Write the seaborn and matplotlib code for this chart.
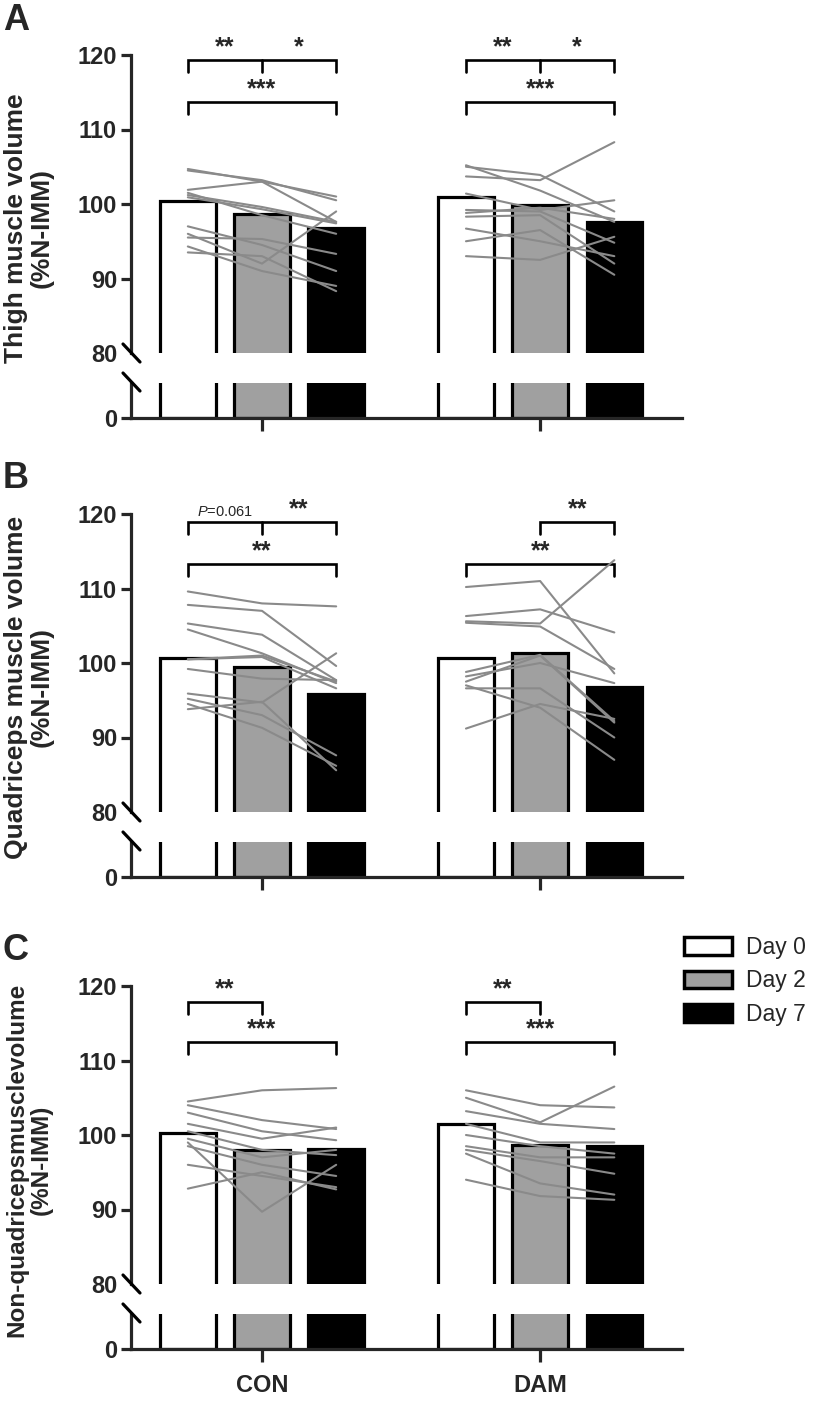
import numpy as np
import pandas as pd
import seaborn as sns
import matplotlib.pyplot as plt
from matplotlib.lines import Line2D
from matplotlib.patches import Patch

# --- data ---
groups = ['CON', 'DAM']
days = ['Day 0', 'Day 2', 'Day 7']

# bar heights (group means), per day: [CON, DAM]
thigh_means = {'Day 0': [100.4, 101.0], 'Day 2': [98.6, 99.8], 'Day 7': [96.8, 97.6]}
quad_means = {'Day 0': [100.7, 100.7], 'Day 2': [99.4, 101.3], 'Day 7': [95.8, 96.8]}
nonquad_means = {'Day 0': [100.3, 101.5], 'Day 2': [98.0, 98.7], 'Day 7': [98.1, 98.5]}

# individual subjects, [day0, day2, day7]
thigh_con = [[104.7, 103.0, 101.0], [104.5, 103.2, 100.5], [101.9, 103.0, 97.6],
             [101.2, 99.6, 97.6], [100.9, 99.3, 97.4], [97.0, 94.5, 91.0],
             [96.0, 92.0, 99.0], [95.5, 95.3, 93.3], [94.3, 91.0, 89.0],
             [93.5, 93.0, 88.3], [101.5, 98.5, 96.0]]
thigh_dam = [[105.2, 101.8, 97.6], [105.0, 103.9, 99.0], [103.7, 103.2, 108.3],
             [101.4, 99.2, 100.5], [99.2, 99.0, 94.8], [98.3, 98.5, 92.0],
             [96.7, 95.0, 93.0], [95.0, 96.5, 90.5], [93.0, 92.5, 95.6],
             [98.8, 99.5, 98.0]]
quad_con = [[109.6, 108.0, 107.6], [107.8, 107.0, 99.6], [105.3, 103.8, 97.7],
            [104.5, 101.3, 97.3], [100.5, 100.8, 96.6], [99.2, 97.9, 97.7],
            [100.5, 101.0, 97.5], [95.9, 94.7, 101.3], [95.2, 93.0, 87.6],
            [94.5, 91.3, 86.2], [93.8, 94.8, 85.6]]
quad_dam = [[110.2, 111.0, 98.6], [106.3, 107.2, 104.1], [105.6, 105.3, 113.8],
            [105.4, 104.9, 99.2], [98.8, 101.1, 92.2], [98.2, 100.0, 97.3],
            [97.5, 101.0, 92.0], [96.6, 96.6, 90.0], [97.0, 94.0, 87.0],
            [91.2, 94.5, 92.5]]
nonquad_con = [[104.5, 106.0, 106.3], [104.0, 102.0, 100.8], [103.0, 100.5, 99.3],
               [101.5, 99.5, 101.0], [100.5, 98.0, 97.3], [99.5, 97.0, 98.0],
               [99.0, 89.7, 96.0], [98.5, 96.0, 94.5], [96.0, 94.5, 93.0],
               [92.8, 95.0, 92.7]]
nonquad_dam = [[106.0, 104.0, 103.7], [105.0, 101.7, 106.5], [103.2, 101.5, 100.8],
               [101.5, 99.0, 99.0], [100.0, 98.5, 97.5], [98.5, 97.0, 97.0],
               [98.0, 96.5, 94.8], [97.5, 93.5, 92.0], [94.0, 91.8, 91.3]]

ylabels = ['Thigh muscle volume\n(%N-IMM)',
           'Quadriceps muscle volume\n(%N-IMM)',
           'Non-quadricepsmusclevolume\n(%N-IMM)']
letters = ['A', 'B', 'C']

# significance brackets: (group, day_from, day_to, y, label, middle tick day)
sig_A = [(0, 0, 2, 119.3, None, 1), (0, 0, 1, None, '**', None), (0, 1, 2, None, '*', None),
         (0, 0, 2, 113.7, '***', None),
         (1, 0, 2, 119.3, None, 1), (1, 0, 1, None, '**', None), (1, 1, 2, None, '*', None),
         (1, 0, 2, 113.7, '***', None)]
sig_B = [(0, 0, 2, 118.9, None, 1), (0, 0, 1, None, '$P$=0.061', None), (0, 1, 2, None, '**', None),
         (0, 0, 2, 113.3, '**', None),
         (1, 1, 2, 118.9, '**', None),
         (1, 0, 2, 113.3, '**', None)]
sig_C = [(0, 0, 1, 117.9, '**', None), (0, 0, 2, 112.5, '***', None),
         (1, 0, 1, 117.9, '**', None), (1, 0, 2, 112.5, '***', None)]

panels = [(thigh_means, thigh_con, thigh_dam, sig_A),
          (quad_means, quad_con, quad_dam, sig_B),
          (nonquad_means, nonquad_con, nonquad_dam, sig_C)]

# --- style ---
sns.set_style('ticks')
plt.rcParams['font.family'] = ['Liberation Sans', 'DejaVu Sans']
plt.rcParams['mathtext.fontset'] = 'custom'
plt.rcParams['mathtext.it'] = 'Liberation Sans:italic'
plt.rcParams['mathtext.rm'] = 'Liberation Sans'

W, H = 819, 1407
LW = 2.3
palette = ['white', '#a0a0a0', 'black']
line_col = '#8a8a8a'

fig = plt.figure(figsize=(W / 100, H / 100), dpi=100)


def fx(px):
    return px / W


def fy(py):
    return 1 - py / H


shifts = [0, 459, 931]
for p, (means, con, dam, sigs) in enumerate(panels):
    s = shifts[p]
    ax_up = fig.add_axes([fx(131), fy(353 + s), fx(551), 298 / H])
    ax_lo = fig.add_axes([fx(131), fy(418 + s), fx(551), 35 / H])

    df = pd.DataFrame([(g, d, means[d][i]) for d in days for i, g in enumerate(groups)],
                      columns=['group', 'day', 'value'])
    for ax in (ax_up, ax_lo):
        sns.barplot(data=df, x='group', y='value', hue='day', order=groups, hue_order=days,
                    palette=palette, edgecolor='black', linewidth=LW, gap=0.25,
                    errorbar=None, legend=False, ax=ax, zorder=2)
        ax.set_xlim(-0.471, 1.51)
        ax.set_xlabel('')
        ax.set_ylabel('')
        for sp in ax.spines.values():
            sp.set_linewidth(LW)

    # bar centres from the seaborn containers: cx[day][group]
    cx = [[b.get_x() + b.get_width() / 2 for b in cont] for cont in ax_up.containers]

    # individual subject lines
    for gi, subj in enumerate([con, dam]):
        xs = [cx[d][gi] for d in range(3)]
        for vals in subj:
            ax_up.plot(xs, vals, color=line_col, lw=1.5, zorder=4, solid_joinstyle='round')

    ax_up.set_ylim(80, 120)
    ax_up.set_yticks([80, 90, 100, 110, 120])
    ax_up.tick_params(axis='y', length=7, width=LW, labelsize=17, pad=3)
    ax_up.yaxis.get_major_ticks()[0].tick1line.set_visible(False)
    ax_up.tick_params(axis='x', bottom=False, labelbottom=False)
    sns.despine(ax=ax_up, bottom=True)
    for lbl in ax_up.get_yticklabels():
        lbl.set_fontweight('bold')

    ax_lo.set_ylim(0, 5)
    ax_lo.set_yticks([0])
    ax_lo.tick_params(axis='y', length=7, width=LW, labelsize=17, pad=3)
    ax_lo.tick_params(axis='x', length=9, width=LW, labelsize=17, pad=9)
    sns.despine(ax=ax_lo)
    if p < 2:
        ax_lo.tick_params(axis='x', labelbottom=False)
    for lbl in ax_lo.get_yticklabels() + ax_lo.get_xticklabels():
        lbl.set_fontweight('bold')

    # axis break marks
    for yc in (353 + s, 382 + s):
        fig.add_artist(Line2D([fx(123), fx(140)], [fy(yc - 9), fy(yc + 9)],
                              color='black', lw=LW))

    # significance brackets
    last_top = {}
    for g, d0, d1, y, lab, mid in sigs:
        x0, x1 = cx[d0][g], cx[d1][g]
        if y is None:
            # label above an existing bracket segment
            y = last_top[g]
        else:
            last_top[g] = y
            ax_up.plot([x0, x0, x1, x1], [y - 1.6, y, y, y - 1.6], color='black',
                       lw=1.9, clip_on=False, solid_joinstyle='miter')
            if mid is not None:
                ax_up.plot([cx[mid][g]] * 2, [y - 1.6, y], color='black', lw=1.9, clip_on=False)
        if lab is not None:
            if lab.startswith('$P$'):
                ax_up.text((x0 + x1) / 2, y + 0.4, lab, ha='center', va='bottom',
                           fontsize=10.5, clip_on=False)
            else:
                ax_up.text((x0 + x1) / 2, y + 0.1, lab, ha='center', va='bottom',
                           fontsize=18, fontweight='bold', clip_on=False)

    ylab_size = 17.5 if p == 2 else 19
    ylab_y = 229 if p == 2 else 228
    fig.text(fx(29), fy(ylab_y + s), ylabels[p], rotation=90, ha='center', va='center',
             fontsize=ylab_size, fontweight='bold', linespacing=1.1)
    fig.text(fx(3), fy(20 + s), letters[p], ha='left', va='center',
             fontsize=26, fontweight='bold')

handles = [Patch(facecolor=c, edgecolor='black', linewidth=2.5) for c in palette]
fig.legend(handles, days, loc='upper left', bbox_to_anchor=(fx(675), fy(927)),
           frameon=False, fontsize=16.5, handlelength=2.1, handleheight=0.8,
           labelspacing=0.45, handletextpad=0.6, borderaxespad=0)

fig.savefig('out.png', dpi=100)
